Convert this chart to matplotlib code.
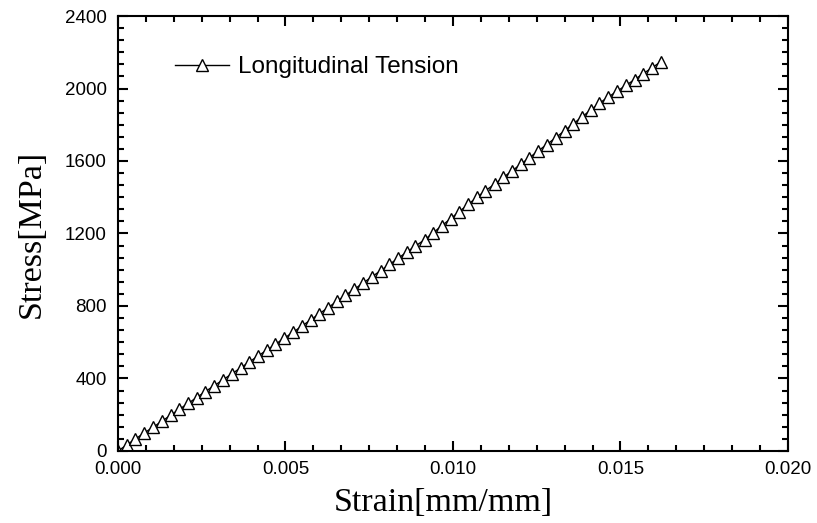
import matplotlib
matplotlib.use("Agg")
import matplotlib.pyplot as plt
from matplotlib.ticker import MultipleLocator

# strain (mm/mm) and stress (MPa)
strain = [0.0, 0.00026, 0.00052, 0.00078, 0.00105, 0.00131, 0.00157, 0.00183,
          0.00209, 0.00235, 0.00261, 0.00287, 0.00314, 0.00340, 0.00366, 0.00392,
          0.00418, 0.00444, 0.00470, 0.00496, 0.00523, 0.00549, 0.00575, 0.00601,
          0.00627, 0.00653, 0.00679, 0.00706, 0.00732, 0.00758, 0.00784, 0.00810,
          0.00836, 0.00862, 0.00888, 0.00915, 0.00941, 0.00967, 0.00993, 0.01019,
          0.01045, 0.01071, 0.01097, 0.01124, 0.01150, 0.01176, 0.01202, 0.01228,
          0.01254, 0.01280, 0.01307, 0.01333, 0.01359, 0.01385, 0.01411, 0.01437,
          0.01463, 0.01489, 0.01516, 0.01542, 0.01568, 0.01594, 0.01620]
stress = [0, 33, 66, 99, 131, 164, 197, 230, 262, 295, 328, 360, 393, 426, 458, 491,
          524, 556, 589, 622, 655, 689, 723, 757, 791, 825, 859, 893, 927, 961, 995, 1029,
          1063, 1097, 1131, 1165, 1204, 1243, 1282, 1321, 1360, 1399, 1436, 1472, 1509, 1545,
          1582, 1618, 1655, 1691, 1729, 1767, 1805, 1843, 1881, 1919, 1952, 1984, 2017, 2049,
          2082, 2114, 2147]

x_ticks = [0.000, 0.005, 0.010, 0.015, 0.020]
x_ticklabels = ["0.000", "0.005", "0.010", "0.015", "0.020"]
y_ticks = [0, 400, 800, 1200, 1600, 2000, 2400]

plt.rcParams['font.family'] = ['Liberation Sans', 'DejaVu Sans']

fig = plt.figure(figsize=(8.17, 5.23), dpi=100)
ax = fig.add_axes([0.1444, 0.1377, 0.8201, 0.8317])

ax.plot(strain, stress, color='black', linewidth=1.0, marker='^', markersize=9,
        markerfacecolor='white', markeredgecolor='black', markeredgewidth=1.0,
        label='Longitudinal Tension')

ax.set_xlim(0, 0.020)
ax.set_ylim(0, 2400)
ax.set_xticks(x_ticks)
ax.set_xticklabels(x_ticklabels)
ax.set_yticks(y_ticks)
ax.xaxis.set_minor_locator(MultipleLocator(0.005 / 6))
ax.yaxis.set_minor_locator(MultipleLocator(400 / 6))

ax.tick_params(which='both', direction='in', top=True, right=True, width=1.5)
ax.tick_params(which='major', length=7, labelsize=13.5)
ax.tick_params(axis='x', which='major', pad=7)
ax.tick_params(axis='y', which='major', pad=8)
ax.tick_params(which='minor', length=4)
for s in ax.spines.values():
    s.set_linewidth(1.5)

ax.set_xlabel("Strain[mm/mm]", family='Liberation Serif', fontsize=24.5)
ax.set_ylabel("Stress[MPa]", family='Liberation Serif', fontsize=24.5, labelpad=13)
ax.xaxis.set_label_coords(0.485, -0.085)

ax.legend(loc='upper left', bbox_to_anchor=(0.07, 0.93), frameon=False,
          fontsize=17.5, handlelength=2.25, handletextpad=0.35, borderaxespad=0)

fig.savefig("out.png", dpi=100)
